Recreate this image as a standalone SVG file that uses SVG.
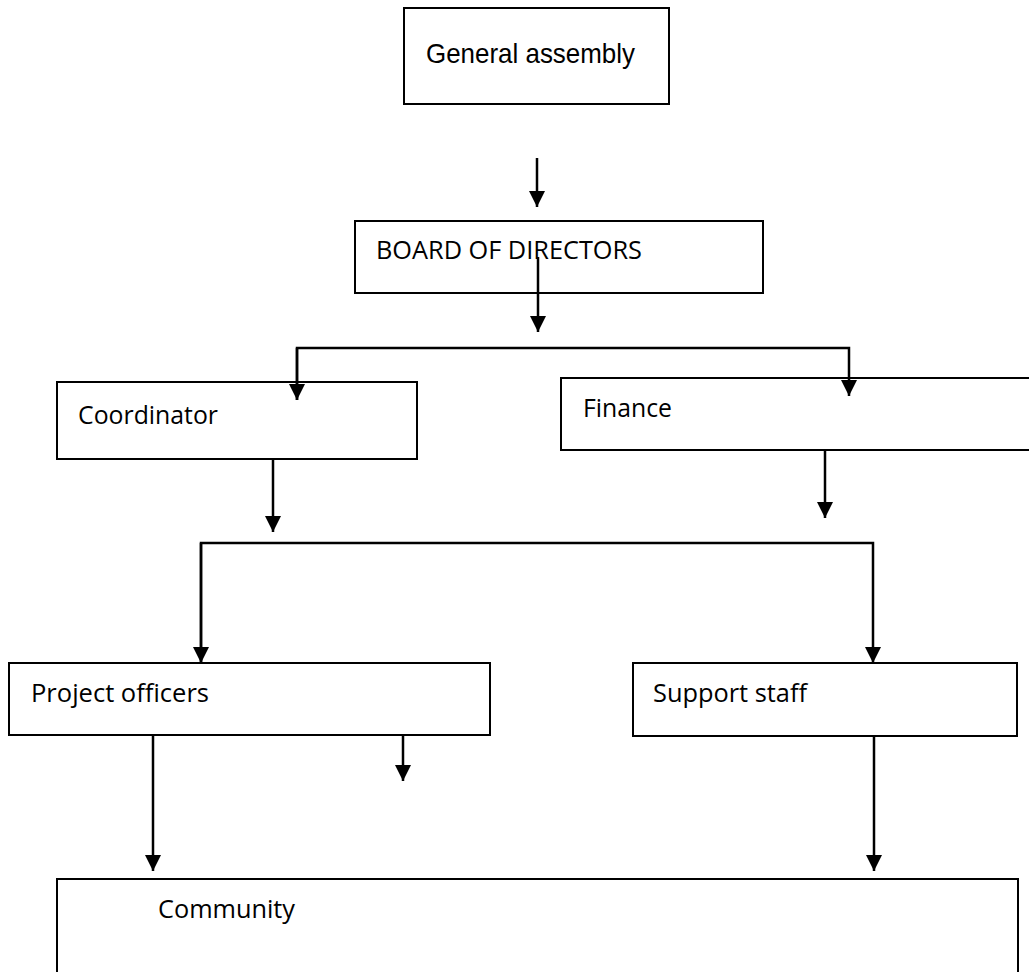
<svg xmlns="http://www.w3.org/2000/svg" width="1029" height="972" viewBox="0 0 1029 972">
<defs>
<style>
.box{fill:#fff;stroke:#000;stroke-width:2}
.c{fill:none;stroke:#000;stroke-width:2.5}
.t{font-family:"Open Sans","Noto Sans",sans-serif;font-size:26px;fill:#000}
.a{font-family:"Liberation Sans",Arial,sans-serif;font-size:28px;fill:#000}
</style>
<marker id="ah" markerUnits="userSpaceOnUse" markerWidth="17" markerHeight="17" refX="16" refY="8" orient="auto">
<path d="M0,0 L16,8 L0,16 Z" fill="#000"/>
</marker>
</defs>
<rect width="1029" height="972" fill="#fff"/>
<g id="n-general">
<rect class="box" x="404" y="8" width="265" height="96"/>
<text class="a" x="426" y="63" textLength="209" lengthAdjust="spacingAndGlyphs">General assembly</text>
</g>
<g id="n-board">
<rect class="box" x="355" y="221" width="408" height="72"/>
<text class="t" x="376" y="259" textLength="266" lengthAdjust="spacingAndGlyphs">BOARD OF DIRECTORS</text>
</g>
<g id="n-coordinator">
<rect class="box" x="57" y="382" width="360" height="77"/>
<text class="t" x="78" y="424" textLength="140" lengthAdjust="spacingAndGlyphs">Coordinator</text>
</g>
<g id="n-finance">
<rect class="box" x="561" y="378" width="478" height="72"/>
<text class="t" x="583" y="417" textLength="89" lengthAdjust="spacingAndGlyphs">Finance</text>
</g>
<g id="n-project">
<rect class="box" x="9" y="663" width="481" height="72"/>
<text class="t" x="31" y="702" textLength="178" lengthAdjust="spacingAndGlyphs">Project officers</text>
</g>
<g id="n-support">
<rect class="box" x="633" y="663" width="384" height="73"/>
<text class="t" x="653" y="702" textLength="154" lengthAdjust="spacingAndGlyphs">Support staff</text>
</g>
<g id="n-community">
<rect class="box" x="57" y="879" width="961" height="110"/>
<text class="t" x="158" y="918" textLength="137" lengthAdjust="spacingAndGlyphs">Community</text>
</g>
<g id="connectors">
<path class="c" d="M537,158 V207" marker-end="url(#ah)"/>
<path class="c" d="M538,257 V332" marker-end="url(#ah)"/>
<path class="c" d="M297,400 V348 H849 V396" marker-end="url(#ah)"/>
<path class="c" d="M297,348 V400" marker-end="url(#ah)"/>
<path class="c" d="M273,459 V532" marker-end="url(#ah)"/>
<path class="c" d="M825,450 V518" marker-end="url(#ah)"/>
<path class="c" d="M201,663 V543 H873 V663" marker-end="url(#ah)"/>
<path class="c" d="M201,543 V663" marker-end="url(#ah)"/>
<path class="c" d="M403,735 V781" marker-end="url(#ah)"/>
<path class="c" d="M153,735 V871" marker-end="url(#ah)"/>
<path class="c" d="M874,736 V871" marker-end="url(#ah)"/>
</g>
</svg>
